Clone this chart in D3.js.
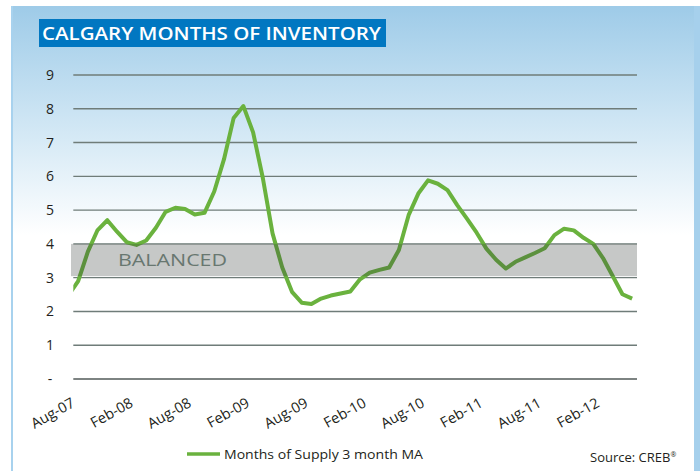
<!DOCTYPE html>
<meta charset="utf-8">
<style>
body { margin: 0; background: #fff; }
svg { display: block; font-family: "Open Sans", sans-serif; }
.grid line { stroke: #6f7c79; stroke-width: 1.4; }
.axis text { fill: #231f20; }
</style>
<svg width="700" height="471"></svg>
<script src="https://cdn.jsdelivr.net/npm/d3@7"></script>
<script>

// monthly months of supply, 3 month moving average (Jul-07 point sits just left of the plot)
var months = ["Jul-07","Aug-07","Sep-07","Oct-07","Nov-07","Dec-07",
  "Jan-08","Feb-08","Mar-08","Apr-08","May-08","Jun-08","Jul-08","Aug-08","Sep-08","Oct-08","Nov-08","Dec-08",
  "Jan-09","Feb-09","Mar-09","Apr-09","May-09","Jun-09","Jul-09","Aug-09","Sep-09","Oct-09","Nov-09","Dec-09",
  "Jan-10","Feb-10","Mar-10","Apr-10","May-10","Jun-10","Jul-10","Aug-10","Sep-10","Oct-10","Nov-10","Dec-10",
  "Jan-11","Feb-11","Mar-11","Apr-11","May-11","Jun-11","Jul-11","Aug-11","Sep-11","Oct-11","Nov-11","Dec-11",
  "Jan-12","Feb-12","Mar-12","Apr-12","May-12"];

var supply = [2.47, 2.90, 3.77, 4.41, 4.70, 4.36, 4.05, 3.97, 4.10, 4.48, 4.95, 5.07,
  5.03, 4.87, 4.92, 5.55, 6.50, 7.73, 8.08, 7.30, 5.95, 4.31, 3.30, 2.58,
  2.26, 2.22, 2.38, 2.47, 2.53, 2.59, 2.95, 3.15, 3.23, 3.30, 3.82, 4.85,
  5.49, 5.88, 5.78, 5.59, 5.15, 4.75, 4.33, 3.86, 3.53, 3.27, 3.47, 3.60,
  3.73, 3.87, 4.26, 4.45, 4.40, 4.18, 4.00, 3.58, 3.05, 2.51, 2.38];

var xLabels = ["Aug-07","Feb-08","Aug-08","Feb-09","Aug-09","Feb-10","Aug-10","Feb-11","Aug-11","Feb-12"];
var yTicks = [0, 1, 2, 3, 4, 5, 6, 7, 8, 9];
var yTickLabels = ["-", "1", "2", "3", "4", "5", "6", "7", "8", "9"];
var balanced = [3, 4];

var svg = d3.select("svg");

var plot = {left: 73.3, right: 637, top: 75, bottom: 379};

// each month gets an equal slot; points sit in slot centres
var step = (plot.right - plot.left) / 58;
var x = d3.scalePoint()
    .domain(months)
    .range([plot.left - step * 0.5, plot.right - step * 0.5]);

var y = d3.scaleLinear().domain([0, 9]).range([plot.bottom, plot.top]);

// background panel
var defs = svg.append("defs");
var grad = defs.append("linearGradient")
    .attr("id", "bg")
    .attr("gradientUnits", "userSpaceOnUse")
    .attr("x1", 0).attr("y1", 6).attr("x2", 0).attr("y2", 235);
grad.append("stop").attr("offset", 0).attr("stop-color", "#9ecbe8");
grad.append("stop").attr("offset", 0.55).attr("stop-color", "#d3e8f5");
grad.append("stop").attr("offset", 1).attr("stop-color", "#ffffff");

defs.append("clipPath").attr("id", "plotclip")
  .append("rect")
    .attr("x", plot.left).attr("y", 0)
    .attr("width", plot.right - plot.left).attr("height", 471);

svg.append("rect")
    .attr("x", 11).attr("y", 6)
    .attr("width", 689).attr("height", 465)
    .attr("fill", "url(#bg)");
svg.append("rect")
    .attr("x", 11).attr("y", 6)
    .attr("width", 2).attr("height", 465)
    .attr("fill", "#a8d2ee");
svg.append("rect")
    .attr("x", 694).attr("y", 6)
    .attr("width", 6).attr("height", 465)
    .attr("fill", "#a6d0ec");

// title
svg.append("rect")
    .attr("x", 39).attr("y", 19)
    .attr("width", 347).attr("height", 28)
    .attr("fill", "#0177c1");
svg.append("text")
    .attr("x", 42).attr("y", 39.5)
    .attr("fill", "#fff")
    .attr("font-size", 18)
    .attr("font-weight", 600)
    .attr("textLength", 339)
    .attr("lengthAdjust", "spacingAndGlyphs")
    .text("CALGARY MONTHS OF INVENTORY");

// gridlines
svg.append("g")
    .attr("class", "grid")
  .selectAll("line")
  .data(yTicks.filter(function(d) { return d > 0; }))
  .enter().append("line")
    .attr("x1", plot.left).attr("x2", plot.right)
    .attr("y1", function(d) { return y(d); })
    .attr("y2", function(d) { return y(d); });

svg.append("line")
    .attr("x1", plot.left).attr("x2", plot.right)
    .attr("y1", y(0)).attr("y2", y(0))
    .attr("stroke", "#7d8382")
    .attr("stroke-width", 2.2);

// y axis labels
var yAxis = svg.append("g")
    .attr("class", "axis")
    .attr("transform", "translate(58,0)")
    .call(d3.axisLeft(y).tickValues(yTicks)
      .tickFormat(function(d, i) { return yTickLabels[i]; })
      .tickSize(0).tickPadding(0));
yAxis.select(".domain").remove();
yAxis.selectAll("text")
    .attr("x", -8)
    .attr("text-anchor", "middle")
    .attr("font-size", 14)
    .attr("font-family", "Open Sans, sans-serif");

// x axis labels
var xAxis = svg.append("g")
    .attr("class", "axis")
    .attr("transform", "translate(0," + plot.bottom + ")")
    .call(d3.axisBottom(x).tickValues(xLabels).tickSize(0).tickPadding(0));
xAxis.select(".domain").remove();
xAxis.selectAll("text")
    .attr("y", 0).attr("dy", 0)
    .attr("text-anchor", "end")
    .attr("transform", "translate(-3,27) rotate(-29)")
    .attr("font-size", 14.5)
    .attr("font-family", "Open Sans, sans-serif");

// the series
var line = d3.line()
    .x(function(d, i) { return x(months[i]); })
    .y(function(d) { return y(d); });

svg.append("path")
    .datum(supply)
    .attr("clip-path", "url(#plotclip)")
    .attr("fill", "none")
    .attr("stroke", "#6ab23e")
    .attr("stroke-width", 4)
    .attr("stroke-linejoin", "round")
    .attr("d", line);

// balanced band sits over the line
svg.append("rect")
    .attr("x", 71)
    .attr("y", y(balanced[1]))
    .attr("width", plot.right - 71)
    .attr("height", y(balanced[0]) - y(balanced[1]) - 1.5)
    .attr("fill", "#3c413e")
    .attr("fill-opacity", 0.29);

svg.append("text")
    .attr("x", 118).attr("y", 266)
    .attr("fill", "#687770")
    .attr("font-size", 16)
    .attr("textLength", 109)
    .attr("lengthAdjust", "spacingAndGlyphs")
    .text("BALANCED");

// legend
svg.append("line")
    .attr("x1", 187).attr("x2", 220)
    .attr("y1", 454).attr("y2", 454)
    .attr("stroke", "#6ab23e")
    .attr("stroke-width", 3.5);
svg.append("text")
    .attr("x", 224).attr("y", 459)
    .attr("fill", "#231f20")
    .attr("font-size", 13)
    .attr("textLength", 199)
    .attr("lengthAdjust", "spacingAndGlyphs")
    .text("Months of Supply 3 month MA");

var src = svg.append("text")
    .attr("x", 590).attr("y", 462)
    .attr("fill", "#231f20")
    .attr("font-size", 13);
src.append("tspan").text("Source: CREB");
src.append("tspan").attr("font-size", 7).attr("dy", -5).text("®");

</script>
